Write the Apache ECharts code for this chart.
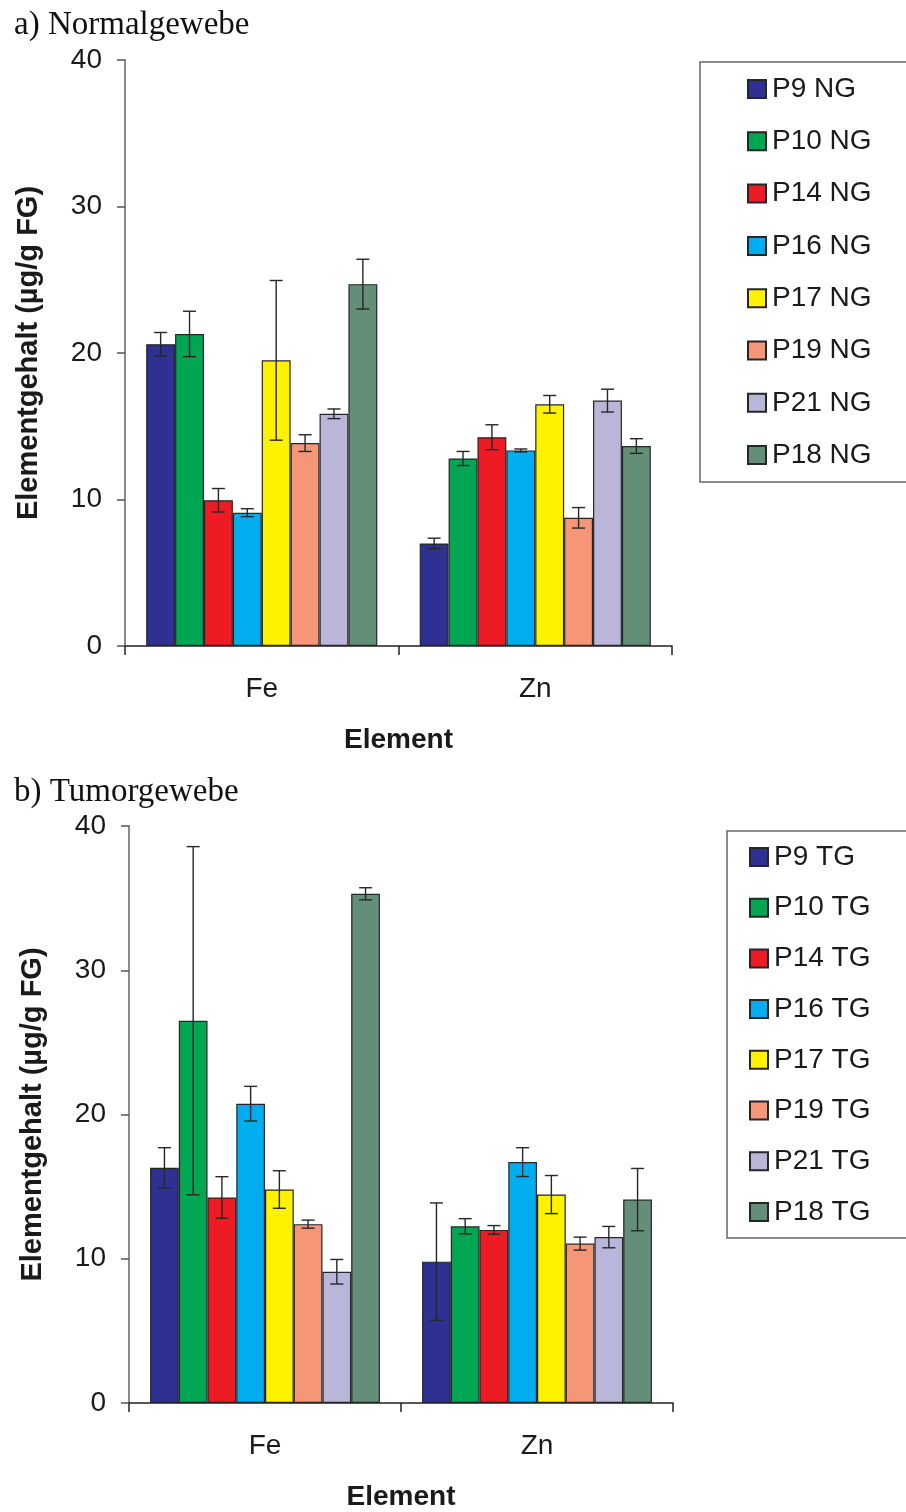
<!DOCTYPE html>
<html>
<head>
<meta charset="utf-8">
<script src="https://cdn.jsdelivr.net/npm/echarts@6/dist/echarts.min.js"></script>
<style>
html,body{margin:0;padding:0;background:#fff;}
#c{width:906px;height:1512px;}
</style>
</head>
<body>
<div id="c"></div>
<script>
const categories = ['Fe', 'Zn'];
const namesNG = ['P9 NG', 'P10 NG', 'P14 NG', 'P16 NG', 'P17 NG', 'P19 NG', 'P21 NG', 'P18 NG'];
const namesTG = ['P9 TG', 'P10 TG', 'P14 TG', 'P16 TG', 'P17 TG', 'P19 TG', 'P21 TG', 'P18 TG'];
const colors = ['#2E3192', '#00A651', '#ED1C24', '#00AEEF', '#FFF200', '#F69679', '#BAB6DA', '#638F78'];

const ngFe = [20.6, 21.3, 9.95, 9.1, 19.5, 13.85, 15.85, 24.7];
const ngZn = [7.0, 12.8, 14.25, 13.35, 16.5, 8.75, 16.75, 13.65];
const ngFeErr = [0.8, 1.55, 0.8, 0.27, 5.45, 0.57, 0.33, 1.7];
const ngZnErr = [0.36, 0.48, 0.85, 0.1, 0.6, 0.7, 0.78, 0.5];

const tgFe = [16.3, 26.5, 14.25, 20.75, 14.8, 12.4, 9.1, 35.3];
const tgZn = [9.8, 12.25, 12.0, 16.7, 14.45, 11.05, 11.5, 14.1];
const tgFeErr = [1.4, 12.07, 1.44, 1.2, 1.3, 0.28, 0.85, 0.42];
const tgZnErr = [4.07, 0.53, 0.3, 1.0, 1.32, 0.45, 0.74, 2.16];

const yMin = 0, yMax = 40, yInterval = 10;
const titleA = 'a) Normalgewebe';
const titleB = 'b) Tumorgewebe';
const yName = 'Elementgehalt (µg/g FG)';
const xName = 'Element';

const GAP = 0.155;
const NB = 8;
const SANS = 'Liberation Sans, Arial, sans-serif';

function errRender(params, api) {
  const cat = api.value(0), val = api.value(1), err = api.value(2), k = api.value(3);
  const band = api.size([1, 0])[0];
  const total = band * (1 - GAP);
  const w = total / NB;
  const cx = api.coord([cat, 0])[0] - total / 2 + (k + 0.5) * w;
  const yT = api.coord([cat, val + err])[1];
  const yB = api.coord([cat, val - err])[1];
  const hw = 6.5;
  const st = {stroke: '#262626', lineWidth: 1.4};
  return {type: 'group', children: [
    {type: 'line', shape: {x1: cx, y1: yT, x2: cx, y2: yB}, style: st},
    {type: 'line', shape: {x1: cx - hw, y1: yT, x2: cx + hw, y2: yT}, style: st},
    {type: 'line', shape: {x1: cx - hw, y1: yB, x2: cx + hw, y2: yB}, style: st}
  ]};
}

function xAxisDef(gi) {
  return {
    type: 'category', gridIndex: gi, data: categories,
    name: xName, nameLocation: 'middle', nameGap: 80,
    nameTextStyle: {fontFamily: SANS, fontSize: 28, fontWeight: 'bold', color: '#1a1a1a'},
    axisLine: {lineStyle: {color: '#222', width: 1.5}},
    axisTick: {show: true, length: 9, lineStyle: {color: '#222', width: 1.5}},
    axisLabel: {fontFamily: SANS, fontSize: 28, color: '#1a1a1a', margin: 29}
  };
}
function yAxisDef(gi) {
  return {
    type: 'value', gridIndex: gi, min: yMin, max: yMax, interval: yInterval,
    name: yName, nameLocation: 'middle', nameGap: 82,
    nameTextStyle: {fontFamily: SANS, fontSize: 29, fontWeight: 'bold', color: '#1a1a1a'},
    axisLine: {show: true, lineStyle: {color: '#8a8a8a', width: 2}},
    axisTick: {show: true, length: 8, lineStyle: {color: '#555', width: 1.5}},
    splitLine: {show: false},
    axisLabel: {fontFamily: SANS, fontSize: 28, color: '#1a1a1a', margin: 23}
  };
}

const series = [];
function addGroup(gi, names, fe, zn, feErr, znErr) {
  names.forEach((n, i) => {
    series.push({
      type: 'bar', name: n, xAxisIndex: gi, yAxisIndex: gi,
      data: [fe[i], zn[i]],
      barGap: '0%', barCategoryGap: (GAP * 100) + '%',
      itemStyle: {color: colors[i], borderColor: '#262626', borderWidth: 1.2},
      emphasis: {disabled: true}
    });
  });
  const ed = [];
  names.forEach((n, i) => {
    ed.push([0, fe[i], feErr[i], i]);
    ed.push([1, zn[i], znErr[i], i]);
  });
  series.push({
    type: 'custom', name: 'err' + gi, xAxisIndex: gi, yAxisIndex: gi,
    data: ed, encode: {x: 0, y: 1}, renderItem: errRender, z: 10, silent: true
  });
}
addGroup(0, namesNG, ngFe, ngZn, ngFeErr, ngZnErr);
addGroup(1, namesTG, tgFe, tgZn, tgFeErr, tgZnErr);

function legendDef(names, left, top, gap, pad) {
  return {
    data: names, orient: 'vertical', left: left, top: top,
    itemWidth: 18, itemHeight: 18, itemGap: gap,
    icon: 'rect', padding: pad,
    borderColor: '#666', borderWidth: 1.5,
    selectedMode: false,
    textStyle: {fontFamily: SANS, fontSize: 28, color: '#1a1a1a', lineHeight: 28, padding: [0, 0, 0, 1]}
  };
}

const option = {
  animation: false,
  backgroundColor: '#fff',
  title: [
    {text: titleA, left: 9, top: 4, textStyle: {fontFamily: 'Liberation Serif, serif', fontSize: 33, fontWeight: 'normal', color: '#111'}},
    {text: titleB, left: 9, top: 771, textStyle: {fontFamily: 'Liberation Serif, serif', fontSize: 33, fontWeight: 'normal', color: '#111'}}
  ],
  legend: [
    legendDef(namesNG, 700, 62, 24.3, [13, 60, 13, 47]),
    legendDef(namesTG, 727, 831, 22.7, [12, 60, 12, 22])
  ],
  grid: [
    {left: 125, top: 60, width: 547, height: 586},
    {left: 129, top: 826, width: 544, height: 580}
  ],
  xAxis: [xAxisDef(0), xAxisDef(1)],
  yAxis: [yAxisDef(0), yAxisDef(1)],
  series: series
};

const chart = echarts.init(document.getElementById('c'), null, {renderer: 'canvas'});
chart.setOption(option);
</script>
</body>
</html>
